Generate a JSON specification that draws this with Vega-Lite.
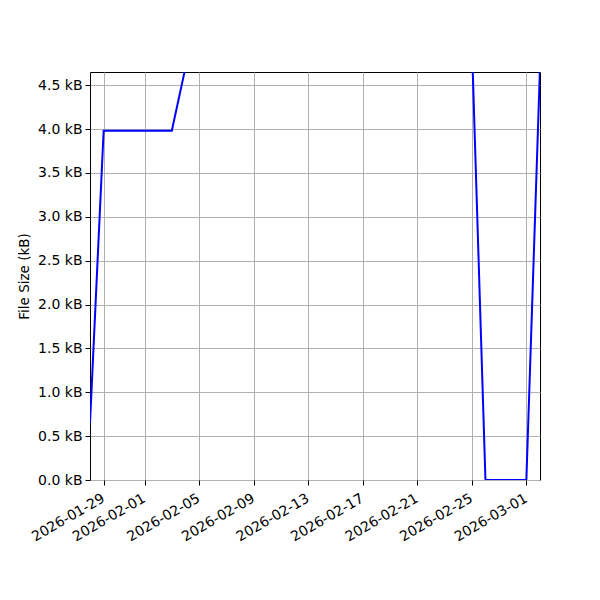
{
  "$schema": "https://vega.github.io/schema/vega-lite/v6.json",
  "autosize": {"type": "none"},
  "padding": {"left": 90, "top": 72, "right": 60, "bottom": 120},
  "width": 450,
  "height": 408,
  "data": {
    "values": [
      {"date": "2026-01-28", "size": 0.65},
      {"date": "2026-01-29", "size": 3.98},
      {"date": "2026-01-30", "size": 3.98},
      {"date": "2026-01-31", "size": 3.98},
      {"date": "2026-02-01", "size": 3.98},
      {"date": "2026-02-02", "size": 3.98},
      {"date": "2026-02-03", "size": 3.98},
      {"date": "2026-02-04", "size": 4.7},
      {"date": "2026-02-25", "size": 5.0},
      {"date": "2026-02-26", "size": 0},
      {"date": "2026-02-27", "size": 0},
      {"date": "2026-02-28", "size": 0},
      {"date": "2026-03-01", "size": 0},
      {"date": "2026-03-02", "size": 4.7}
    ]
  },
  "mark": {"type": "line", "color": "#0000ff", "strokeWidth": 2, "clip": true},
  "encoding": {
    "x": {
      "field": "date",
      "type": "temporal",
      "title": null,
      "scale": {"domain": [{"year": 2026, "month": 1, "date": 28}, {"year": 2026, "month": 3, "date": 2}], "nice": false},
      "axis": {
        "values": [
          {"year": 2026, "month": 1, "date": 29},
          {"year": 2026, "month": 2, "date": 1},
          {"year": 2026, "month": 2, "date": 5},
          {"year": 2026, "month": 2, "date": 9},
          {"year": 2026, "month": 2, "date": 13},
          {"year": 2026, "month": 2, "date": 17},
          {"year": 2026, "month": 2, "date": 21},
          {"year": 2026, "month": 2, "date": 25},
          {"year": 2026, "month": 3, "date": 1}
        ],
        "format": "%Y-%m-%d",
        "labelAngle": -30,
        "labelAlign": "right",
        "labelBaseline": "top",
        "labelPadding": 6,
        "labelOffset": -4
      }
    },
    "y": {
      "field": "size",
      "type": "quantitative",
      "title": "File Size (kB)",
      "scale": {"domain": [0, 4.65], "nice": false, "zero": true},
      "axis": {
        "values": [0, 0.5, 1, 1.5, 2, 2.5, 3, 3.5, 4, 4.5],
        "labelExpr": "format(datum.value, '.1f') + ' kB'",
        "titlePadding": 6
      }
    }
  },
  "config": {
    "font": "DejaVu Sans",
    "view": {"stroke": "#000000", "strokeWidth": 1},
    "axis": {
      "grid": true,
      "gridColor": "#b0b0b0",
      "gridWidth": 1,
      "gridOpacity": 1,
      "domain": false,
      "tickColor": "#000000",
      "tickSize": 5,
      "tickWidth": 1,
      "labelFont": "DejaVu Sans",
      "labelFontSize": 14,
      "labelColor": "#000000",
      "labelPadding": 3,
      "labelFlush": false,
      "labelOverlap": false,
      "titleFont": "DejaVu Sans",
      "titleFontSize": 13.5,
      "titleFontWeight": "normal",
      "titleColor": "#000000"
    }
  }
}
